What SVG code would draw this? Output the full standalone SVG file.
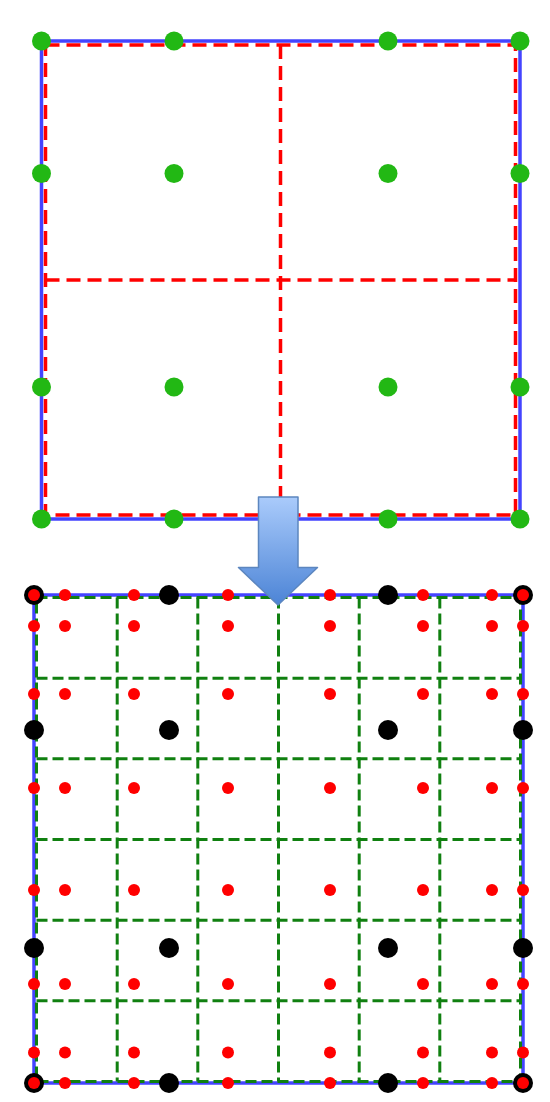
<svg xmlns="http://www.w3.org/2000/svg" width="550" height="1102" viewBox="0 0 550 1102">
  <defs>
    <linearGradient id="arrowGrad" x1="0" y1="0" x2="0" y2="1">
      <stop offset="0" stop-color="#aacbfb"/>
      <stop offset="1" stop-color="#4c84d6"/>
    </linearGradient>
    <style>
      .blue { fill: none; stroke: #4444ff; stroke-width: 3.5; }
      .reddash { fill: none; stroke: #ff0000; stroke-width: 3.5; stroke-dasharray: 14 7; }
      .greendash { fill: none; stroke: #108010; stroke-width: 3; stroke-dasharray: 11 5; }
      .gdot { fill: #22b814; }
      .kdot { fill: #000000; }
      .rdot { fill: #ff0000; }
    </style>
  </defs>
  <rect width="550" height="1102" fill="#ffffff"/>

  <!-- Top: coarse grid -->
  <g id="top-square">
    <rect class="blue" x="41.5" y="41" width="478.5" height="478"/>
    <rect class="reddash" x="45.5" y="45" width="470" height="470"/>
    <line class="reddash" x1="280.5" y1="45" x2="280.5" y2="515"/>
    <line class="reddash" x1="45.5" y1="280" x2="515.5" y2="280"/>
  </g>
  <g id="top-points">
    <circle class="gdot" cx="41.5" cy="41" r="9.5"/>
    <circle class="gdot" cx="174" cy="41" r="9.5"/>
    <circle class="gdot" cx="388" cy="41" r="9.5"/>
    <circle class="gdot" cx="520" cy="41" r="9.5"/>
    <circle class="gdot" cx="41.5" cy="173.5" r="9.5"/>
    <circle class="gdot" cx="174" cy="173.5" r="9.5"/>
    <circle class="gdot" cx="388" cy="173.5" r="9.5"/>
    <circle class="gdot" cx="520" cy="173.5" r="9.5"/>
    <circle class="gdot" cx="41.5" cy="387" r="9.5"/>
    <circle class="gdot" cx="174" cy="387" r="9.5"/>
    <circle class="gdot" cx="388" cy="387" r="9.5"/>
    <circle class="gdot" cx="520" cy="387" r="9.5"/>
    <circle class="gdot" cx="41.5" cy="519" r="9.5"/>
    <circle class="gdot" cx="174" cy="519" r="9.5"/>
    <circle class="gdot" cx="388" cy="519" r="9.5"/>
    <circle class="gdot" cx="520" cy="519" r="9.5"/>
  </g>

  <!-- Bottom: fine grid -->
  <g id="bottom-square">
    <rect class="blue" x="34" y="595" width="489" height="488"/>
    <rect class="greendash" x="36.5" y="597.5" width="484" height="484"/>
    <line class="greendash" x1="117.2" y1="597.5" x2="117.2" y2="1081.5"/>
    <line class="greendash" x1="197.8" y1="597.5" x2="197.8" y2="1081.5"/>
    <line class="greendash" x1="278.5" y1="597.5" x2="278.5" y2="1081.5"/>
    <line class="greendash" x1="359.2" y1="597.5" x2="359.2" y2="1081.5"/>
    <line class="greendash" x1="439.8" y1="597.5" x2="439.8" y2="1081.5"/>
    <line class="greendash" x1="36.5" y1="678.2" x2="520.5" y2="678.2"/>
    <line class="greendash" x1="36.5" y1="758.8" x2="520.5" y2="758.8"/>
    <line class="greendash" x1="36.5" y1="839.5" x2="520.5" y2="839.5"/>
    <line class="greendash" x1="36.5" y1="920.2" x2="520.5" y2="920.2"/>
    <line class="greendash" x1="36.5" y1="1000.8" x2="520.5" y2="1000.8"/>
  </g>
  <g id="bottom-coarse-points">
    <circle class="kdot" cx="34" cy="595" r="10"/>
    <circle class="kdot" cx="169" cy="595" r="10"/>
    <circle class="kdot" cx="388" cy="595" r="10"/>
    <circle class="kdot" cx="523" cy="595" r="10"/>
    <circle class="kdot" cx="34" cy="730" r="10"/>
    <circle class="kdot" cx="169" cy="730" r="10"/>
    <circle class="kdot" cx="388" cy="730" r="10"/>
    <circle class="kdot" cx="523" cy="730" r="10"/>
    <circle class="kdot" cx="34" cy="948" r="10"/>
    <circle class="kdot" cx="169" cy="948" r="10"/>
    <circle class="kdot" cx="388" cy="948" r="10"/>
    <circle class="kdot" cx="523" cy="948" r="10"/>
    <circle class="kdot" cx="34" cy="1083" r="10"/>
    <circle class="kdot" cx="169" cy="1083" r="10"/>
    <circle class="kdot" cx="388" cy="1083" r="10"/>
    <circle class="kdot" cx="523" cy="1083" r="10"/>
  </g>
  <g id="bottom-fine-points">
    <circle class="rdot" cx="34" cy="595" r="6"/><circle class="rdot" cx="65" cy="595" r="6"/><circle class="rdot" cx="134" cy="595" r="6"/><circle class="rdot" cx="228" cy="595" r="6"/><circle class="rdot" cx="330" cy="595" r="6"/><circle class="rdot" cx="423" cy="595" r="6"/><circle class="rdot" cx="492" cy="595" r="6"/><circle class="rdot" cx="523" cy="595" r="6"/>
    <circle class="rdot" cx="34" cy="626" r="6"/><circle class="rdot" cx="65" cy="626" r="6"/><circle class="rdot" cx="134" cy="626" r="6"/><circle class="rdot" cx="228" cy="626" r="6"/><circle class="rdot" cx="330" cy="626" r="6"/><circle class="rdot" cx="423" cy="626" r="6"/><circle class="rdot" cx="492" cy="626" r="6"/><circle class="rdot" cx="523" cy="626" r="6"/>
    <circle class="rdot" cx="34" cy="694" r="6"/><circle class="rdot" cx="65" cy="694" r="6"/><circle class="rdot" cx="134" cy="694" r="6"/><circle class="rdot" cx="228" cy="694" r="6"/><circle class="rdot" cx="330" cy="694" r="6"/><circle class="rdot" cx="423" cy="694" r="6"/><circle class="rdot" cx="492" cy="694" r="6"/><circle class="rdot" cx="523" cy="694" r="6"/>
    <circle class="rdot" cx="34" cy="788" r="6"/><circle class="rdot" cx="65" cy="788" r="6"/><circle class="rdot" cx="134" cy="788" r="6"/><circle class="rdot" cx="228" cy="788" r="6"/><circle class="rdot" cx="330" cy="788" r="6"/><circle class="rdot" cx="423" cy="788" r="6"/><circle class="rdot" cx="492" cy="788" r="6"/><circle class="rdot" cx="523" cy="788" r="6"/>
    <circle class="rdot" cx="34" cy="890" r="6"/><circle class="rdot" cx="65" cy="890" r="6"/><circle class="rdot" cx="134" cy="890" r="6"/><circle class="rdot" cx="228" cy="890" r="6"/><circle class="rdot" cx="330" cy="890" r="6"/><circle class="rdot" cx="423" cy="890" r="6"/><circle class="rdot" cx="492" cy="890" r="6"/><circle class="rdot" cx="523" cy="890" r="6"/>
    <circle class="rdot" cx="34" cy="984" r="6"/><circle class="rdot" cx="65" cy="984" r="6"/><circle class="rdot" cx="134" cy="984" r="6"/><circle class="rdot" cx="228" cy="984" r="6"/><circle class="rdot" cx="330" cy="984" r="6"/><circle class="rdot" cx="423" cy="984" r="6"/><circle class="rdot" cx="492" cy="984" r="6"/><circle class="rdot" cx="523" cy="984" r="6"/>
    <circle class="rdot" cx="34" cy="1052.5" r="6"/><circle class="rdot" cx="65" cy="1052.5" r="6"/><circle class="rdot" cx="134" cy="1052.5" r="6"/><circle class="rdot" cx="228" cy="1052.5" r="6"/><circle class="rdot" cx="330" cy="1052.5" r="6"/><circle class="rdot" cx="423" cy="1052.5" r="6"/><circle class="rdot" cx="492" cy="1052.5" r="6"/><circle class="rdot" cx="523" cy="1052.5" r="6"/>
    <circle class="rdot" cx="34" cy="1083" r="6"/><circle class="rdot" cx="65" cy="1083" r="6"/><circle class="rdot" cx="134" cy="1083" r="6"/><circle class="rdot" cx="228" cy="1083" r="6"/><circle class="rdot" cx="330" cy="1083" r="6"/><circle class="rdot" cx="423" cy="1083" r="6"/><circle class="rdot" cx="492" cy="1083" r="6"/><circle class="rdot" cx="523" cy="1083" r="6"/>
  </g>

  <g id="connectors">
    <path id="refine-arrow" d="M258.5,497 L298,497 L298,567.5 L317.5,567.5 L278,605 L238.5,567.5 L258.5,567.5 Z" fill="url(#arrowGrad)" stroke="#5c86bf" stroke-width="1.5" stroke-linejoin="round"/>
  </g>
</svg>
